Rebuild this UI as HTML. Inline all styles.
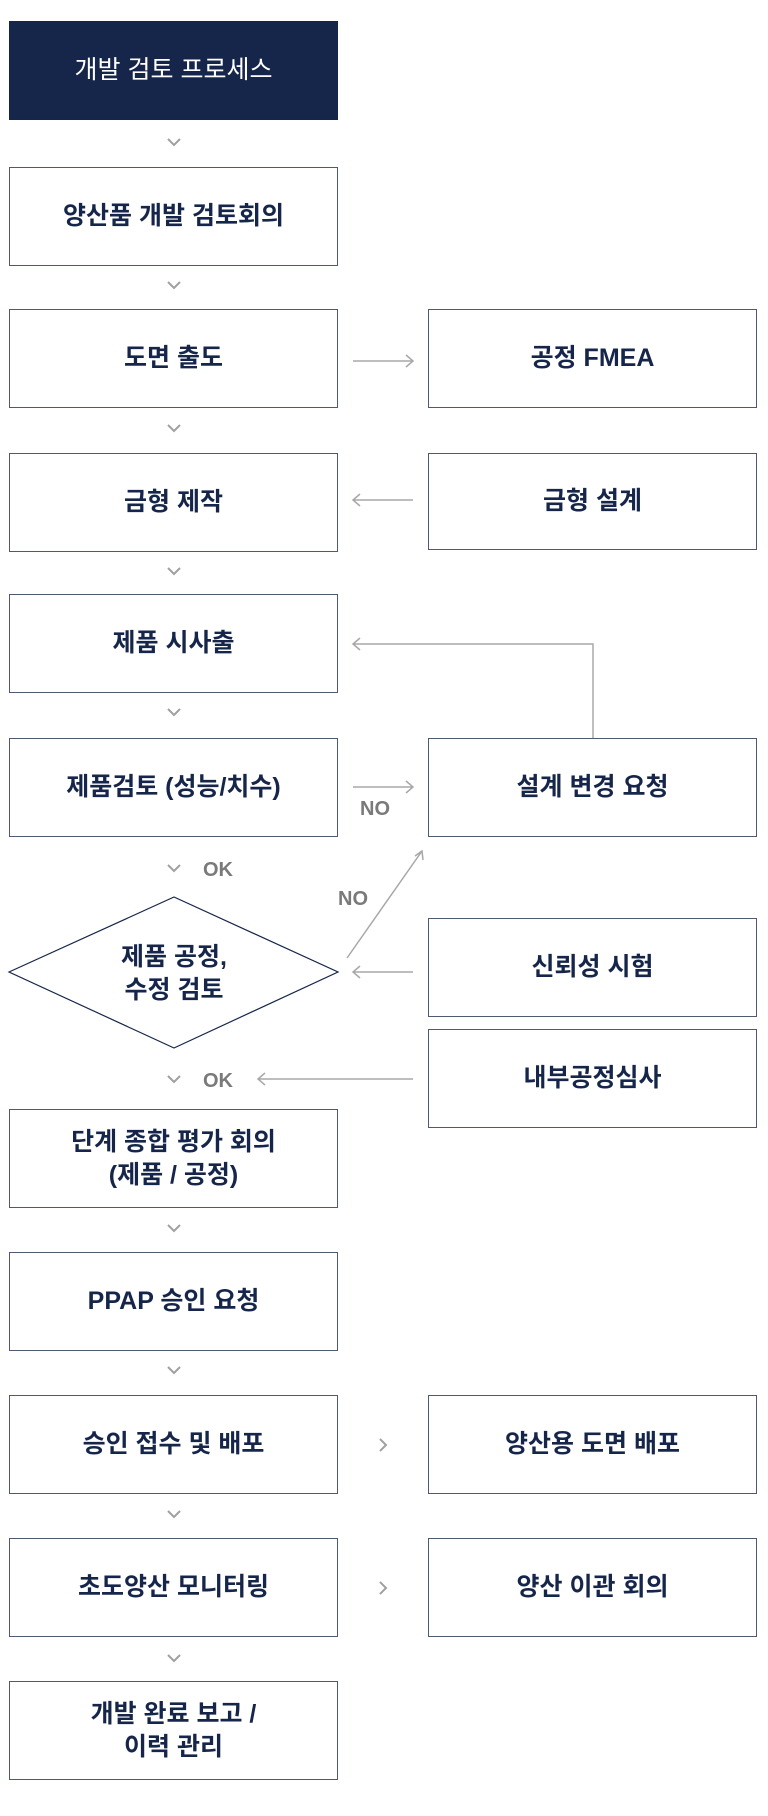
<!DOCTYPE html>
<html><head><meta charset="utf-8"><style>
html,body{margin:0;padding:0;background:#fff;width:768px;height:1816px;overflow:hidden}
.b{position:absolute;box-sizing:border-box;border:1.5px solid #4f5a72;background:#fff;display:flex;align-items:center;justify-content:center;text-align:center;font-family:"Liberation Sans","Noto Sans CJK KR",sans-serif;font-weight:bold;font-size:25px;color:#16264a;line-height:1.3}
.L{left:9px;width:329px}
.R{left:428px;width:329px}
svg{position:absolute;left:0;top:0}
</style></head><body>
<div class="b L" style="top:21px;height:99px;background:#16264a;border-color:#16264a;color:#fff;font-weight:normal">개발 검토 프로세스</div>
<div class="b L" style="top:167px;height:99px">양산품 개발 검토회의</div>
<div class="b L" style="top:309px;height:99px">도면 출도</div>
<div class="b R" style="top:309px;height:99px">공정 FMEA</div>
<div class="b L" style="top:453px;height:99px">금형 제작</div>
<div class="b R" style="top:453px;height:97px">금형 설계</div>
<div class="b L" style="top:594px;height:99px">제품 시사출</div>
<div class="b L" style="top:738px;height:99px">제품검토 (성능/치수)</div>
<div class="b R" style="top:738px;height:99px">설계 변경 요청</div>
<div class="b R" style="top:918px;height:99px">신뢰성 시험</div>
<div class="b R" style="top:1029px;height:99px">내부공정심사</div>
<div class="b L" style="top:1109px;height:99px">단계 종합 평가 회의<br>(제품 / 공정)</div>
<div class="b L" style="top:1252px;height:99px">PPAP 승인 요청</div>
<div class="b L" style="top:1395px;height:99px">승인 접수 및 배포</div>
<div class="b R" style="top:1395px;height:99px">양산용 도면 배포</div>
<div class="b L" style="top:1538px;height:99px">초도양산 모니터링</div>
<div class="b R" style="top:1538px;height:99px">양산 이관 회의</div>
<div class="b L" style="top:1681px;height:99px">개발 완료 보고 /<br>이력 관리</div>
<svg width="768" height="1816" viewBox="0 0 768 1816">
<g fill="none" stroke="#a0a0a0" stroke-width="2">
<path d="M168 139l6 6 6-6M168 282l6 6 6-6M168 425l6 6 6-6M168 568l6 6 6-6M168 709l6 6 6-6M168 865l6 6 6-6M168 1076l6 6 6-6M168 1225l6 6 6-6M168 1367l6 6 6-6M168 1511l6 6 6-6M168 1655l6 6 6-6"/>
<path d="M380 1439l6 6-6 6M380 1582l6 6-6 6"/>
</g>
<g fill="none" stroke="#a8a8a8" stroke-width="1.5">
<path d="M353 361h60M406 355l7 6-7 6"/>
<path d="M353 500h60M360 494l-7 6 7 6"/>
<path d="M593 738V644H353M360 638l-7 6 7 6"/>
<path d="M353 787h60M406 781l7 6-7 6"/>
<path d="M347 958L422 851M415 856l7-5 1 9"/>
<path d="M353 972h60M360 966l-7 6 7 6"/>
<path d="M258 1079h155M265 1073l-7 6 7 6"/>
</g>
<polygon points="9,972 174,897 338,972 174,1048" fill="#fff" stroke="#16264a" stroke-width="1.2"/>
<text x="174" y="965" text-anchor="middle" font-family="Liberation Sans,Noto Sans CJK KR,sans-serif" font-weight="bold" font-size="25" fill="#16264a">제품 공정,</text>
<text x="174" y="998" text-anchor="middle" font-family="Liberation Sans,Noto Sans CJK KR,sans-serif" font-weight="bold" font-size="25" fill="#16264a">수정 검토</text>
<g font-family="Liberation Sans,sans-serif" font-weight="bold" font-size="20" fill="#7a7a7a">
<text x="360" y="815">NO</text>
<text x="338" y="905">NO</text>
<text x="203" y="876">OK</text>
<text x="203" y="1087">OK</text>
</g>
</svg>
</body></html>
